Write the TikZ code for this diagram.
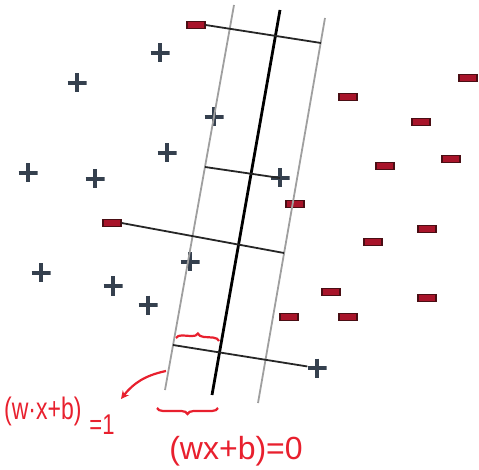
\documentclass[tikz,border=0pt]{standalone}
\usepackage{fontspec}
\setmainfont{Liberation Sans}
\usetikzlibrary{decorations.pathreplacing,arrows.meta}
\definecolor{annot}{HTML}{E8202E}
\definecolor{plusc}{HTML}{35404E}
\definecolor{minusc}{HTML}{A8142A}
\definecolor{minusd}{HTML}{4A0E14}
\begin{document}
\begin{tikzpicture}[x=1pt,y=-1pt,
 plusmark/.style={minimum size=19pt, inner sep=0pt, path picture={\draw[plusc, line width=4.5pt] (path picture bounding box.north) -- (path picture bounding box.south) (path picture bounding box.west) -- (path picture bounding box.east);}},
 minusmark/.style={draw=minusd, fill=minusc, line width=1.2pt, minimum width=18pt, minimum height=7pt, inner sep=0pt},
 margin/.style={draw=gray!75, line width=1.8pt},
 hyper/.style={draw=black, line width=2.8pt},
 perp/.style={draw=black!85, line width=1.8pt},
 annotline/.style={draw=annot, line width=2.2pt},
 annottext/.style={text=annot, inner sep=0pt}]
\useasboundingbox (0,0) rectangle (479,470);
% plus marks
\node[plusmark] (p1) at (160,53) {};
\node[plusmark] (p2) at (77,83) {};
\node[plusmark] (p3) at (214,117) {};
\node[plusmark] (p4) at (167,153) {};
\node[plusmark] (p5) at (28,173) {};
\node[plusmark] (p6) at (95,179) {};
\node[plusmark] (p7) at (280,178) {};
\node[plusmark] (p8) at (190,262) {};
\node[plusmark] (p9) at (41,273) {};
\node[plusmark] (p10) at (113,286) {};
\node[plusmark] (p11) at (148,305) {};
\node[plusmark] (p12) at (317,368) {};
% minus marks
\node[minusmark] (m1) at (196,25) {};
\node[minusmark] (m2) at (112,223) {};
\node[minusmark] (m3) at (468,78) {};
\node[minusmark] (m4) at (348,97) {};
\node[minusmark] (m5) at (421,122) {};
\node[minusmark] (m6) at (385,166) {};
\node[minusmark] (m7) at (451,159) {};
\node[minusmark] (m8) at (295,204) {};
\node[minusmark] (m9) at (427,229) {};
\node[minusmark] (m10) at (373,242) {};
\node[minusmark] (m11) at (331,292) {};
\node[minusmark] (m12) at (289,317) {};
\node[minusmark] (m13) at (348,317) {};
\node[minusmark] (m14) at (427,298) {};
% margins and hyperplane
\coordinate (Lt) at (234,5); \coordinate (Lb) at (165,390);
\coordinate (Mt) at (280,10); \coordinate (Mb) at (212,395);
\coordinate (Rt) at (325,18); \coordinate (Rb) at (258,403);
\draw[margin] (Lt) -- (Lb);
\draw[margin] (Rt) -- (Rb);
\draw[hyper] (Mt) -- (Mb);
% perpendiculars
\coordinate (r1) at (321,43);
\coordinate (l2) at (205,167);
\coordinate (r3) at (284,253);
\coordinate (l4) at (173,345);
\draw[perp] (m1.east) -- (r1);
\draw[perp] (l2) -- (p7.center);
\draw[perp] (m2.east) -- (r3);
\draw[perp] (l4) -- (p12);
% annotations
\coordinate (b1s) at (176,338); \coordinate (b1e) at (219,341);
\draw[annotline, decorate, decoration={brace, amplitude=6pt}] (b1s) -- (b1e);
\coordinate (as) at (166,371); \coordinate (ae) at (121,399);
\draw[annotline, -{Stealth[length=8pt,width=8pt]}] (as) to[bend right=20] (ae);
\coordinate (b2s) at (218,408); \coordinate (b2e) at (157,408);
\draw[annotline, decorate, decoration={brace, amplitude=6pt}] (b2s) -- (b2e);
\node[annottext, font=\fontsize{23}{23}\selectfont, anchor=west] (t1) at (4,411) {\scalebox{1}[1.35]{(w·x+b)}};
\node[annottext, font=\fontsize{22}{22}\selectfont] (t1b) at (102,425) {\scalebox{1}[1.3]{=1}};
\node[annottext, font=\fontsize{32}{32}\selectfont] (t2) at (236,451) {(wx+b)=0};
\end{tikzpicture}
\end{document}
